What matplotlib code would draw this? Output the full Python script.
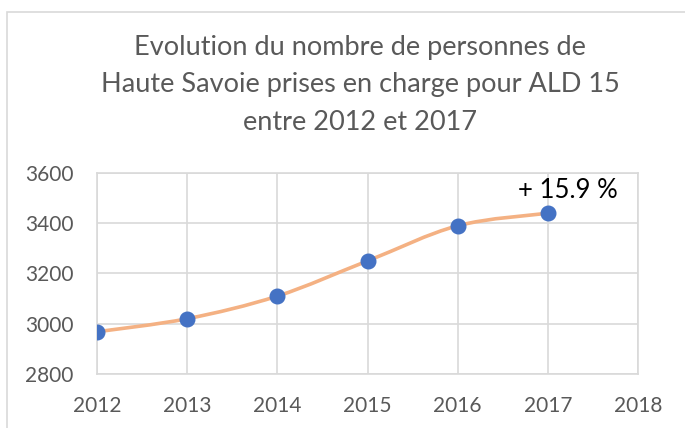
import numpy as np
import matplotlib.pyplot as plt
from matplotlib.path import Path
from matplotlib.patches import PathPatch, Rectangle

years = [2012, 2013, 2014, 2015, 2016, 2017]
patients = [2968, 3020, 3110, 3250, 3390, 3440]
title = "Evolution du nombre de personnes de\nHaute Savoie prises en charge pour ALD 15\nentre 2012 et 2017"
growth_label = "+ 15.9 %"

plt.rcParams['font.family'] = ['Lato', 'DejaVu Sans']

fig = plt.figure(figsize=(6.85, 4.28), dpi=100)
ax = fig.add_axes([0.1416, 0.1262, 0.7898, 0.4696])

# chart frame like the spreadsheet export
fig.patches.append(Rectangle((7 / 685, -0.1), 1.2, 1 - 12 / 428 + 0.1, transform=fig.transFigure,
                             fill=False, edgecolor='#d9d9d9', linewidth=1.2))


def smooth_path(x, y, t=1 / 6):
    """Bezier path through points, spreadsheet-style smoothing."""
    pts = np.column_stack([x, y]).astype(float)
    verts = [pts[0]]
    codes = [Path.MOVETO]
    n = len(pts)
    for i in range(n - 1):
        p0 = pts[max(i - 1, 0)]
        p1 = pts[i]
        p2 = pts[i + 1]
        p3 = pts[min(i + 2, n - 1)]
        c1 = p1 + (p2 - p0) * t
        c2 = p2 - (p3 - p1) * t
        verts += [c1, c2, p2]
        codes += [Path.CURVE4] * 3
    return Path(verts, codes)


ax.add_patch(PathPatch(smooth_path(years, patients), fill=False, edgecolor='#f4b183',
                       linewidth=2.6, capstyle='round', zorder=3))
ax.plot(years, patients, 'o', color='#4472c4', markersize=10.5, zorder=4)

ax.annotate(growth_label, (years[-1], patients[-1]), xytext=(14.5, 16.5), textcoords='offset points',
            ha='center', va='center', fontsize=18.5, color='black')

ax.set_xlim(2012, 2018)
ax.set_ylim(2800, 3600)
ax.set_xticks(range(2012, 2019))
ax.set_yticks(range(2800, 3601, 200))
ax.grid(True, color='#d9d9d9', linewidth=1.2)
ax.set_axisbelow(True)
for s in ax.spines.values():
    s.set_color('#d9d9d9')
    s.set_linewidth(1.2)
ax.tick_params(length=0, labelsize=15, labelcolor='#595959')
ax.tick_params(axis='y', pad=17)
ax.tick_params(axis='x', pad=16)

fig.text(0.526, 1 - 35 / 428, title, ha='center', va='top', fontsize=19.5, color='#595959',
         linespacing=1.62)

fig.savefig('out.png', dpi=100)
